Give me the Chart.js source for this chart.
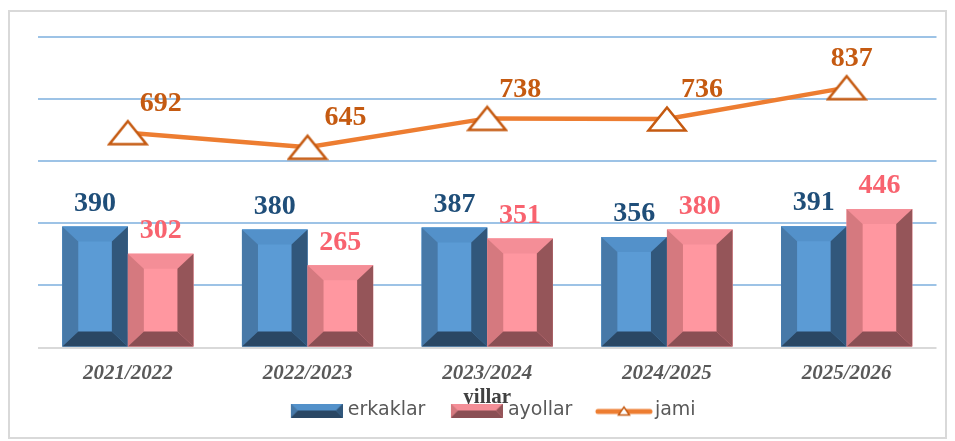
<!DOCTYPE html>
<html>
<head>
<meta charset="utf-8">
<script src="https://cdn.jsdelivr.net/npm/chart.js@4"></script>
<style>
  html, body { margin: 0; padding: 0; background: #fff; }
</style>
</head>
<body>
<canvas id="chart" width="955" height="441"></canvas>
<script>
// data
const years = ["2021/2022", "2022/2023", "2023/2024", "2024/2025", "2025/2026"];
const erkaklar = [390, 380, 387, 356, 391];
const ayollar = [302, 265, 351, 380, 446];
const jami = [692, 645, 738, 736, 837];
const yTicks = [0, 200, 400, 600, 800, 1000];

// colours for the bevelled bars
const shades = [
  { face: '#5B9BD5', top: '#5391CA', left: '#4779A8', right: '#31577B', bottom: '#2A4764' },
  { face: '#FF97A0', top: '#F48E97', left: '#D5797F', right: '#955559', bottom: '#8A4F54' }
];

function poly(ctx, pts, color) {
  ctx.beginPath();
  ctx.moveTo(pts[0][0], pts[0][1]);
  for (let i = 1; i < pts.length; i++) ctx.lineTo(pts[i][0], pts[i][1]);
  ctx.closePath();
  ctx.fillStyle = color;
  ctx.fill();
}

function bevel(ctx, l, t, r, b, bx, by, sh) {
  poly(ctx, [[l, t], [r, t], [r, b], [l, b]], sh.face);
  poly(ctx, [[l, t], [r, t], [r - bx, t + by], [l + bx, t + by]], sh.top);
  poly(ctx, [[l, t], [l + bx, t + by], [l + bx, b - by], [l, b]], sh.left);
  poly(ctx, [[r, t], [r, b], [r - bx, b - by], [r - bx, t + by]], sh.right);
  poly(ctx, [[l, b], [l + bx, b - by], [r - bx, b - by], [r, b]], sh.bottom);
}

// triangle marker for the line
function makeTriangle(w, h, lw) {
  const c = document.createElement('canvas');
  c.width = w; c.height = h;
  const g = c.getContext('2d');
  g.beginPath();
  g.moveTo(w / 2, lw);
  g.lineTo(w - lw, h - lw);
  g.lineTo(lw, h - lw);
  g.closePath();
  g.fillStyle = '#fff';
  g.fill();
  g.lineWidth = lw;
  g.strokeStyle = '#C55A11';
  g.stroke();
  return c;
}
const triangle = makeTriangle(42, 28, 2.5);

// legend icons (drawn at the right of a wider canvas so the text sits close)
function makeBarIcon(sh) {
  const c = document.createElement('canvas');
  c.width = 61; c.height = 14;
  bevel(c.getContext('2d'), 9, 0, 61, 14, 7, 7, sh);
  return c;
}
function makeLineIcon() {
  const c = document.createElement('canvas');
  c.width = 67; c.height = 14;
  const g = c.getContext('2d');
  g.strokeStyle = '#ED7D31';
  g.lineWidth = 5;
  g.lineCap = 'round';
  g.beginPath(); g.moveTo(12, 8); g.lineTo(64, 8); g.stroke();
  g.drawImage(makeTriangle(14, 11, 1.5), 31, 2);
  return c;
}
const legendIcons = [makeBarIcon(shades[0]), makeBarIcon(shades[1]), makeLineIcon()];

// bevels drawn over each bar, using the bar elements
const bevelPlugin = {
  id: 'bevel',
  afterLayout(chart) {
    // nudge the legend a little to the right, as in the picture
    chart.legend.left += 2;
    chart.legend.right += 2;
  },
  afterDatasetsDraw(chart) {
    const ctx = chart.ctx;
    [0, 1].forEach(di => {
      chart.getDatasetMeta(di).data.forEach(bar => {
        const l = bar.x - bar.width / 2, r = bar.x + bar.width / 2;
        bevel(ctx, l, bar.y, r, bar.base, 16, 15, shades[di]);
      });
    });
  }
};

// value labels
const lineDx = [33, 38, 33, 35, 5];
const labelPlugin = {
  id: 'valueLabels',
  afterDraw(chart) {
    const ctx = chart.ctx;
    ctx.save();
    ctx.font = 'bold 28px "Liberation Serif", "Times New Roman", serif';
    ctx.textAlign = 'center';
    ctx.textBaseline = 'middle';
    const colors = ['#1F4E79', '#F8636F', '#C55A11'];
    chart.data.datasets.forEach((ds, di) => {
      chart.getDatasetMeta(di).data.forEach((el, i) => {
        ctx.fillStyle = colors[di];
        if (di < 2) {
          ctx.fillText(ds.data[i], el.x, el.y - 23);
        } else {
          ctx.fillText(ds.data[i], el.x + lineDx[i], el.y - 29);
        }
      });
    });
    ctx.restore();
  }
};

// outer frame
const framePlugin = {
  id: 'frame',
  beforeDraw(chart) {
    const ctx = chart.ctx;
    ctx.save();
    ctx.fillStyle = '#fff';
    ctx.fillRect(0, 0, chart.width, chart.height);
    ctx.strokeStyle = '#D9D9D9';
    ctx.lineWidth = 2;
    ctx.strokeRect(9, 11, 937, 427);
    ctx.restore();
  }
};

const ctx = document.getElementById('chart').getContext('2d');
const chart = new Chart(ctx, {
  data: {
    labels: years,
    datasets: [
      {
        type: 'bar', label: 'erkaklar', data: erkaklar,
        backgroundColor: shades[0].face, borderWidth: 0,
        categoryPercentage: 0.73, barPercentage: 1, order: 2
      },
      {
        type: 'bar', label: 'ayollar', data: ayollar,
        backgroundColor: shades[1].face, borderWidth: 0,
        categoryPercentage: 0.73, barPercentage: 1, order: 2
      },
      {
        type: 'line', label: 'jami', data: jami,
        borderColor: '#ED7D31', borderWidth: 4.5,
        pointStyle: triangle, pointRadius: 14, order: 1
      }
    ]
  },
  options: {
    responsive: false,
    animation: false,
    layout: { padding: { left: 38, right: 15, top: 37, bottom: 11 } },
    plugins: {
      tooltip: { enabled: false },
      legend: {
        position: 'bottom',
        labels: {
          usePointStyle: true,
          pointStyleWidth: 52,
          padding: 21,
          color: '#595959',
          font: { family: '"DejaVu Sans", sans-serif', size: 19 },
          generateLabels: c => c.data.datasets.map((ds, i) => ({
            text: ds.label,
            pointStyle: legendIcons[i],
            fillStyle: 'transparent',
            strokeStyle: 'transparent',
            lineWidth: 0,
            hidden: false,
            datasetIndex: i,
            fontColor: '#595959'
          }))
        }
      }
    },
    scales: {
      x: {
        grid: { display: false },
        border: { display: false },
        ticks: {
          padding: 5,
          color: '#595959',
          font: { family: '"Liberation Serif", serif', size: 21, weight: 'bold', style: 'italic' }
        },
        title: {
          display: true,
          text: 'yillar',
          color: '#404040',
          padding: { top: -6, bottom: -30 },
          font: { family: '"Liberation Serif", serif', size: 21, weight: 'bold' }
        }
      },
      y: {
        min: 0,
        max: 1000,
        afterBuildTicks: axis => { axis.ticks = yTicks.map(v => ({ value: v })); },
        ticks: { display: false },
        border: { display: false },
        grid: {
          drawTicks: false,
          lineWidth: 2,
          color: c => (c.tick && c.tick.value === 0 ? '#D9D9D9' : '#9DC3E6')
        }
      }
    }
  },
  plugins: [framePlugin, bevelPlugin, labelPlugin]
});
</script>
</body>
</html>
